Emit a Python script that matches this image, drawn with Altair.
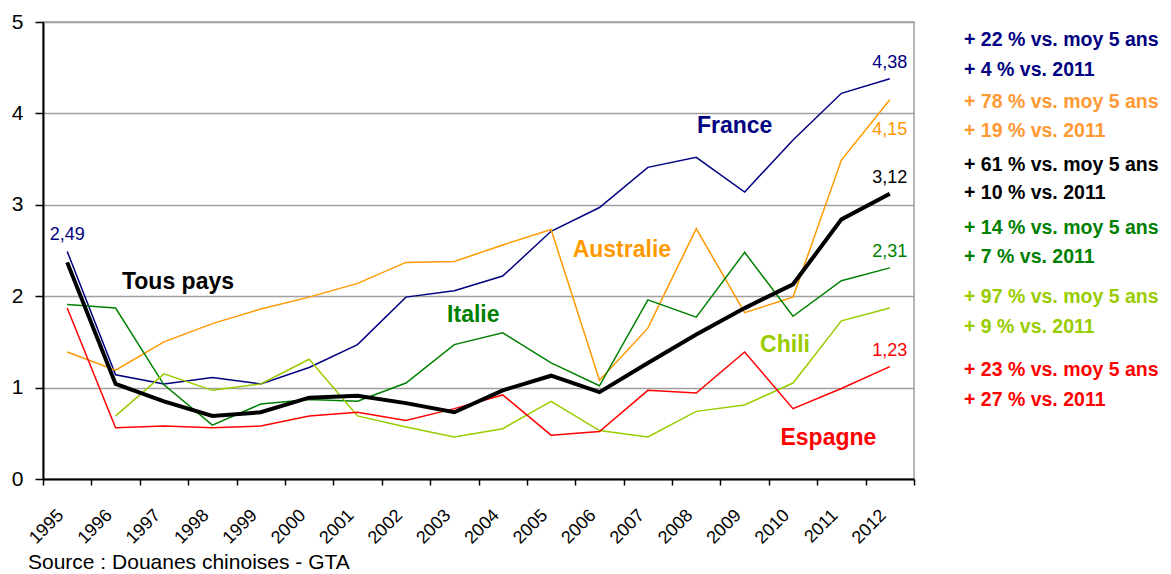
import altair as alt
import pandas as pd

years = [str(y) for y in range(1995, 2013)]
france = [2.49, 1.14, 1.04, 1.11, 1.04, 1.22, 1.47, 1.99, 2.06, 2.22, 2.71, 2.97, 3.41, 3.52, 3.14, 3.71, 4.22, 4.38]
australie = [1.39, 1.19, 1.50, 1.70, 1.86, 1.99, 2.14, 2.37, 2.38, 2.56, 2.73, 1.08, 1.65, 2.74, 1.82, 1.99, 3.49, 4.15]
tous_pays = [2.37, 1.04, 0.85, 0.69, 0.73, 0.89, 0.91, 0.83, 0.73, 0.97, 1.13, 0.95, 1.27, 1.58, 1.87, 2.13, 2.84, 3.12]
italie = [1.91, 1.87, 1.03, 0.59, 0.82, 0.87, 0.85, 1.05, 1.47, 1.60, 1.27, 1.02, 1.96, 1.77, 2.48, 1.78, 2.17, 2.31]
chili = [None, 0.69, 1.15, 0.97, 1.04, 1.31, 0.69, 0.57, 0.46, 0.55, 0.85, 0.53, 0.46, 0.74, 0.81, 1.05, 1.73, 1.87]
espagne = [1.87, 0.56, 0.58, 0.56, 0.58, 0.69, 0.73, 0.64, 0.77, 0.92, 0.48, 0.52, 0.97, 0.94, 1.39, 0.77, 0.99, 1.23]

series_names = ["France", "Australie", "Italie", "Chili", "Espagne", "Tous pays"]
series_values = [france, australie, italie, chili, espagne, tous_pays]
series_colors = ["#000080", "#FF9900", "#008000", "#99CC00", "#FF0000", "#000000"]

# series name labels, anchored in data space (year, value)
name_labels = ["France", "Australie", "Tous pays", "Italie", "Chili", "Espagne"]
name_years = ["2009", "2007", "1997", "2003", "2010", "2011"]
name_values = [3.86, 2.505, 2.155, 1.794, 1.466, 0.449]
name_colors = ["#000080", "#FF9900", "#000000", "#008000", "#99CC00", "#FF0000"]
name_dx = [-10, -26, 14, 19, -8, -13]

annot_texts = [
    "+ 22 % vs. moy 5 ans", "+ 4 % vs. 2011",
    "+ 78 % vs. moy 5 ans", "+ 19 % vs. 2011",
    "+ 61 % vs. moy 5 ans", "+ 10 % vs. 2011",
    "+ 14 % vs. moy 5 ans", "+ 7 % vs. 2011",
    "+ 97 % vs. moy 5 ans", "+ 9 % vs. 2011",
    "+ 23 % vs. moy 5 ans", "+ 27 % vs. 2011",
]
annot_colors = ["#000080", "#000080", "#FF9933", "#FF9933", "#000000", "#000000",
                "#008000", "#008000", "#99CC00", "#99CC00", "#FF0000", "#FF0000"]
annot_y = [18, 48, 80, 109, 143, 171, 206, 235, 275, 305, 348, 378]

source_text = "Source : Douanes chinoises - GTA"

rows = []
for name, vals in zip(series_names, series_values):
    for yr, v in zip(years, vals):
        rows.append({"serie": name, "year": yr, "value": v})
df = pd.DataFrame(rows)

x_enc = alt.X(
    "year:O",
    scale=alt.Scale(type="band", domain=years, paddingInner=0, paddingOuter=0),
    bandPosition=0.5,
    axis=alt.Axis(
        title=None, tickBand="extent", labelAngle=-45, labelAlign="right",
        labelBaseline="top", labelOffset=-13, labelPadding=21, tickSize=6,
        tickColor="black", domainColor="black", domainWidth=2, tickWidth=1.5,
        labelFontSize=18, labelColor="black", grid=False,
    ),
)
y_scale = alt.Scale(domain=[0, 5], nice=False)
y_enc = alt.Y(
    "value:Q", scale=y_scale,
    axis=alt.Axis(
        title=None, values=[0, 1, 2, 3, 4, 5], format="d", tickSize=8, labelPadding=12,
        tickColor="black", domainColor="black", domainWidth=2, tickWidth=1.5,
        labelFontSize=21, labelColor="black", grid=True, gridColor="#a0a0a0",
        gridWidth=1.5,
    ),
)

thin = alt.Chart(df[df.serie != "Tous pays"]).mark_line(strokeWidth=1.5).encode(
    x=x_enc, y=y_enc,
    color=alt.Color("serie:N", scale=alt.Scale(domain=series_names[:5], range=series_colors[:5]), legend=None),
)
thick = alt.Chart(df[df.serie == "Tous pays"]).mark_line(strokeWidth=4, color="#000000").encode(
    x=x_enc, y=y_enc,
)

def fmt(v):
    return f"{v:.2f}".replace(".", ",")

# value labels
val_rows = [
    {"year": years[0], "value": france[0], "txt": fmt(france[0]), "c": "#000080", "pos": "up"},
    {"year": years[-1], "value": france[-1], "txt": fmt(france[-1]), "c": "#000080", "pos": "up"},
    {"year": years[-1], "value": australie[-1], "txt": fmt(australie[-1]), "c": "#FF9900", "pos": "down"},
    {"year": years[-1], "value": tous_pays[-1], "txt": fmt(tous_pays[-1]), "c": "#000000", "pos": "up"},
    {"year": years[-1], "value": italie[-1], "txt": fmt(italie[-1]), "c": "#008000", "pos": "up"},
    {"year": years[-1], "value": espagne[-1], "txt": fmt(espagne[-1]), "c": "#FF0000", "pos": "up"},
]
vdf = pd.DataFrame(val_rows)
val_up = alt.Chart(vdf[vdf.pos == "up"]).mark_text(fontSize=18, dy=-16, baseline="middle").encode(
    x=alt.X("year:O", bandPosition=0.5), y=alt.Y("value:Q"), text="txt:N", color=alt.Color("c:N", scale=None),
)
val_down = alt.Chart(vdf[vdf.pos == "down"]).mark_text(fontSize=18, dy=30, baseline="middle").encode(
    x=alt.X("year:O", bandPosition=0.5), y=alt.Y("value:Q"), text="txt:N", color=alt.Color("c:N", scale=None),
)

name_layers = []
for lab, yr, v, c, dx in zip(name_labels, name_years, name_values, name_colors, name_dx):
    ndf = pd.DataFrame({"year": [yr], "value": [v], "txt": [lab]})
    name_layers.append(
        alt.Chart(ndf).mark_text(fontSize=23, fontWeight="bold", color=c, dx=dx, baseline="middle").encode(
            x=alt.X("year:O", bandPosition=0.5), y=alt.Y("value:Q"), text="txt:N",
        )
    )

adf = pd.DataFrame({"txt": annot_texts, "c": annot_colors, "py": annot_y})
annots = alt.Chart(adf).mark_text(fontSize=19.5, fontWeight="bold", align="left", baseline="middle").encode(
    x=alt.value(921), y=alt.Y("py:Q", scale=None), text="txt:N",
    color=alt.Color("c:N", scale=None),
)

sdf = pd.DataFrame({"txt": [source_text]})
source = alt.Chart(sdf).mark_text(fontSize=21, align="left", baseline="middle", color="black").encode(
    x=alt.value(-15), y=alt.value(541), text="txt:N",
)

chart = alt.layer(thin, thick, val_up, val_down, *name_layers, annots, source).properties(
    width=871, height=457,
    autosize=alt.AutoSizeParams(type="none"),
    padding={"left": 35, "top": 14, "right": 249, "bottom": 95},
).configure(font="Liberation Sans").configure_view(stroke="#a0a0a0", strokeWidth=1.5)

chart.save("out.html", embed_options={"renderer": "svg", "actions": False})
